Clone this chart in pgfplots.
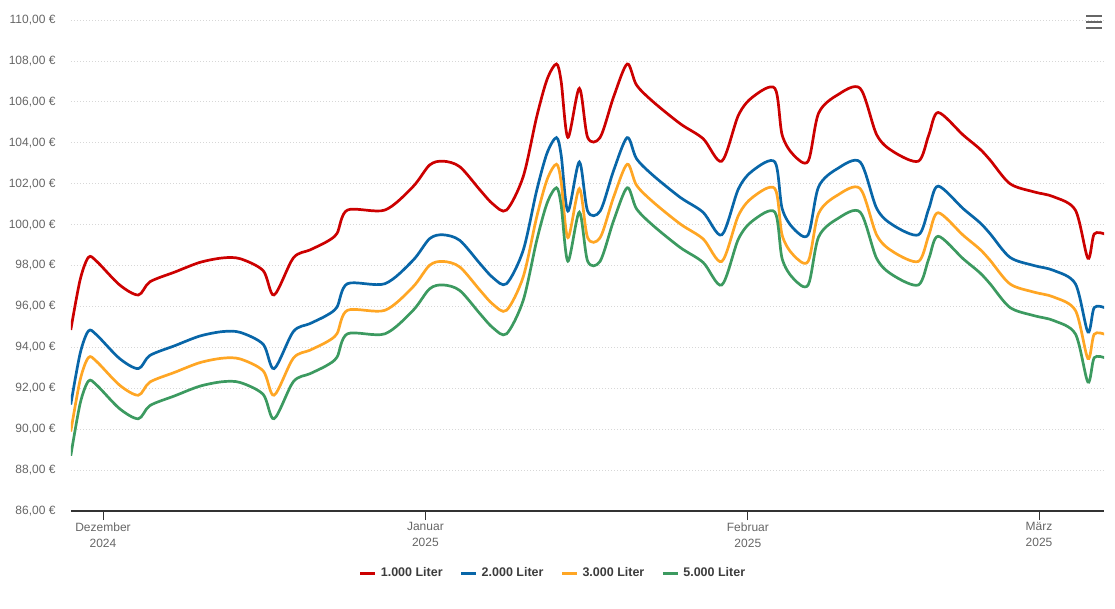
\documentclass[border=0pt]{standalone}
\usepackage{fontspec}
\setmainfont{Liberation Sans}
\usepackage{pgfplots}
\pgfplotsset{compat=1.18}
\definecolor{cred}{RGB}{204,0,0}
\definecolor{cblue}{RGB}{8,102,168}
\definecolor{corange}{RGB}{255,166,36}
\definecolor{cgreen}{RGB}{60,154,96}
\definecolor{tickgray}{RGB}{102,102,102}
\definecolor{leggray}{RGB}{60,60,60}
\definecolor{gridgray}{RGB}{215,215,215}
\definecolor{axisgray}{RGB}{51,51,51}
\newcommand{\eur}{\char"20AC\relax}
\newcommand{\Maerz}{M\char"E4\relax rz}
\begin{document}
\begin{tikzpicture}[x=1pt,y=1pt]
\path[use as bounding box] (-71,-97) rectangle (1044,511);
\begin{axis}[
  at={(0,0)}, anchor=south west,
  scale only axis, width=1033pt, height=491pt,
  xmin=-3.077, xmax=96.25, ymin=86, ymax=110,
  axis x line*=bottom, axis y line*=left,
  x axis line style={axisgray, line width=1.2pt, -},
  y axis line style={draw=none},
  ytick={86,88,...,110},
  yticklabels={{86,00 \eur},{88,00 \eur},{90,00 \eur},{92,00 \eur},{94,00 \eur},{96,00 \eur},{98,00 \eur},{100,00 \eur},{102,00 \eur},{104,00 \eur},{106,00 \eur},{108,00 \eur},{110,00 \eur}},
  xtick={0,31,62,90},
  xticklabels={{Dezember\\2024},{Januar\\2025},{Februar\\2025},{\Maerz\\2025}},
  xticklabel style={align=center, font=\fontsize{12}{16}\selectfont, text=tickgray, anchor=north, yshift=1pt},
  yticklabel style={font=\fontsize{12}{14}\selectfont, text=tickgray, anchor=east, xshift=-3pt},
  tick align=outside, major tick length=9pt,
  xtick style={axisgray, line width=0.8pt},
  ytick style={draw=none},
  ymajorgrids, grid style={gridgray, line width=0.8pt, dash pattern=on 1pt off 2pt},
  legend columns=4,
  legend style={at={(axis description cs:0.4666,-0.1263)}, anchor=center, draw=none, fill=none,
    font=\fontsize{12.5}{14}\selectfont\bfseries, text=leggray,
    /tikz/every odd column/.append style={column sep=2pt},
    /tikz/every even column/.append style={column sep=15pt}},
  legend image code/.code={\draw[#1, line width=3pt] (0pt,0pt) -- (15pt,0pt);},
  every axis plot/.append style={line width=2.7pt, smooth, tension=0.5},
]
\addplot[cred] coordinates {
(-3.1,94.85) (-2.2,97.3) (-1.4,98.4) (-0.6,98.2) (1.6,97.05) (3.4,96.56) (4.5,97.2) (6.9,97.68) (9.3,98.15) (11.5,98.37) (13.2,98.33) (15.4,97.75) (16.45,96.56) (18.3,98.37) (19.9,98.76) (21.5,99.16) (22.5,99.57) (23.5,100.71) (27.1,100.71) (29.8,101.85) (31.4,102.91) (32.7,103.1) (34.3,102.83) (36.25,101.69) (37.5,101.0) (38.8,100.71) (40.4,102.34) (41.7,105.27) (42.7,107.1) (43.6,107.85) (44.05,107.0) (44.7,104.26) (45.8,106.66) (46.6,104.26) (47.8,104.26) (49.1,106.25) (50.4,107.85) (51.3,106.82) (52.9,106.0) (55.5,104.93) (57.7,104.2) (59.5,103.1) (61.1,105.35) (62.5,106.25) (64.6,106.66) (65.3,104.38) (66.4,103.4) (67.8,103.1) (68.8,105.44) (70.6,106.33) (72.8,106.66) (74.4,104.38) (76.0,103.56) (78.4,103.1) (79.4,104.38) (80.3,105.48) (82.7,104.38) (84.3,103.7) (85.3,103.15) (87.2,102.0) (89.5,101.6) (91.4,101.36) (93.5,100.7) (94.7,98.35) (95.3,99.54) (96.3,99.54)
};
\addlegendentry{1.000 Liter}
\addplot[cblue] coordinates {
(-3.1,91.2) (-2.2,93.7) (-1.4,94.8) (-0.6,94.6) (1.6,93.45) (3.4,92.96) (4.5,93.6) (6.9,94.08) (9.3,94.55) (11.5,94.77) (13.2,94.73) (15.4,94.15) (16.45,92.96) (18.3,94.77) (19.9,95.16) (21.5,95.56) (22.5,95.97) (23.5,97.11) (27.1,97.11) (29.8,98.25) (31.4,99.31) (32.7,99.5) (34.3,99.23) (36.25,98.09) (37.5,97.4) (38.8,97.11) (40.4,98.74) (41.7,101.67) (42.7,103.5) (43.6,104.25) (44.05,103.4) (44.7,100.66) (45.8,103.06) (46.6,100.66) (47.8,100.66) (49.1,102.65) (50.4,104.25) (51.3,103.22) (52.9,102.4) (55.5,101.33) (57.7,100.6) (59.5,99.5) (61.1,101.75) (62.5,102.65) (64.6,103.06) (65.3,100.78) (66.4,99.8) (67.8,99.5) (68.8,101.84) (70.6,102.73) (72.8,103.06) (74.4,100.78) (76.0,99.96) (78.4,99.5) (79.4,100.78) (80.3,101.88) (82.7,100.78) (84.3,100.1) (85.3,99.55) (87.2,98.4) (89.5,98.0) (91.4,97.76) (93.5,97.1) (94.7,94.75) (95.3,95.94) (96.3,95.94)
};
\addlegendentry{2.000 Liter}
\addplot[corange] coordinates {
(-3.1,89.88) (-2.2,92.4) (-1.4,93.5) (-0.6,93.3) (1.6,92.15) (3.4,91.66) (4.5,92.3) (6.9,92.78) (9.3,93.25) (11.5,93.47) (13.2,93.43) (15.4,92.85) (16.45,91.66) (18.3,93.47) (19.9,93.86) (21.5,94.26) (22.5,94.67) (23.5,95.81) (27.1,95.81) (29.8,96.95) (31.4,98.01) (32.7,98.2) (34.3,97.93) (36.25,96.79) (37.5,96.1) (38.8,95.81) (40.4,97.44) (41.7,100.37) (42.7,102.2) (43.6,102.95) (44.05,102.1) (44.7,99.36) (45.8,101.76) (46.6,99.36) (47.8,99.36) (49.1,101.35) (50.4,102.95) (51.3,101.92) (52.9,101.1) (55.5,100.03) (57.7,99.3) (59.5,98.2) (61.1,100.45) (62.5,101.35) (64.6,101.76) (65.3,99.48) (66.4,98.5) (67.8,98.2) (68.8,100.54) (70.6,101.43) (72.8,101.76) (74.4,99.48) (76.0,98.66) (78.4,98.2) (79.4,99.48) (80.3,100.58) (82.7,99.48) (84.3,98.8) (85.3,98.25) (87.2,97.1) (89.5,96.7) (91.4,96.46) (93.5,95.8) (94.7,93.45) (95.3,94.64) (96.3,94.64)
};
\addlegendentry{3.000 Liter}
\addplot[cgreen] coordinates {
(-3.1,88.7) (-2.2,91.25) (-1.4,92.35) (-0.6,92.15) (1.6,91.0) (3.4,90.51) (4.5,91.15) (6.9,91.63) (9.3,92.1) (11.5,92.32) (13.2,92.28) (15.4,91.7) (16.45,90.51) (18.3,92.32) (19.9,92.71) (21.5,93.11) (22.5,93.52) (23.5,94.66) (27.1,94.66) (29.8,95.8) (31.4,96.86) (32.7,97.05) (34.3,96.78) (36.25,95.64) (37.5,94.95) (38.8,94.66) (40.4,96.29) (41.7,99.22) (42.7,101.05) (43.6,101.8) (44.05,100.95) (44.7,98.21) (45.8,100.61) (46.6,98.21) (47.8,98.21) (49.1,100.2) (50.4,101.8) (51.3,100.77) (52.9,99.95) (55.5,98.88) (57.7,98.15) (59.5,97.05) (61.1,99.3) (62.5,100.2) (64.6,100.61) (65.3,98.33) (66.4,97.35) (67.8,97.05) (68.8,99.39) (70.6,100.28) (72.8,100.61) (74.4,98.33) (76.0,97.51) (78.4,97.05) (79.4,98.33) (80.3,99.43) (82.7,98.33) (84.3,97.65) (85.3,97.1) (87.2,95.95) (89.5,95.55) (91.4,95.31) (93.5,94.65) (94.7,92.3) (95.3,93.49) (96.3,93.49)
};
\addlegendentry{5.000 Liter}
\end{axis}
\foreach \yy in {495,489,483} {\draw[tickgray, line width=2.2pt] (1015,\yy) -- (1031,\yy);}
\end{tikzpicture}
\end{document}
